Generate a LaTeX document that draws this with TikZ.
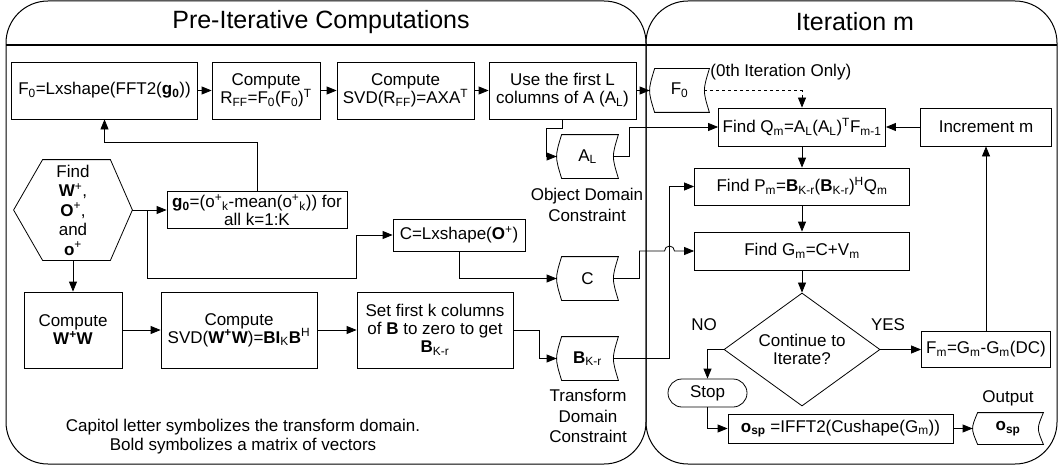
\documentclass[tikz,border=0pt]{standalone}
\usepackage{fontspec}
\setmainfont{Liberation Sans}
\usetikzlibrary{arrows.meta,shapes.geometric,positioning}
\newcommand{\sbs}[1]{\textsubscript{#1}}
\newcommand{\sps}[1]{\textsuperscript{#1}}
\newcommand{\storeline}[1]{\draw[-] ([xshift=5pt]#1.north west) .. controls ([xshift=-1.7pt]#1.west) .. ([xshift=5pt]#1.south west) -- (#1.south east) .. controls ([xshift=-6.7pt]#1.east) .. (#1.north east) -- cycle;}
\begin{document}
\begin{tikzpicture}[x=1pt,y=1pt,->,>={Triangle[length=10pt,width=8pt]},line width=0.8pt,
                    every node/.style={font=\fontsize{17}{18}\selectfont},
                    box/.style={draw,align=center,inner sep=0pt},
                    store/.style={inner sep=0pt,minimum width=61pt,minimum height=43pt},
                    lbl/.style={align=center,inner sep=0pt,font=\fontsize{17}{20.5}\selectfont}]
  \useasboundingbox (0,0) rectangle (1059,-468);

  \draw[-,rounded corners=42pt,line width=1pt] (6,-1) rectangle (646,-464);
  \draw[-,rounded corners=42pt,line width=1pt] (646,-1) rectangle (1057,-464);
  \draw[-,line width=1.5pt] (6,-45) -- (1057,-45);
  \node[font=\fontsize{25}{30}\selectfont] (pretitle) at (321,-22) {Pre-Iterative Computations};
  \node[font=\fontsize{25}{30}\selectfont] (ittitle) at (855,-22) {Iteration m};

  \node[box,minimum width=186pt,minimum height=57pt] (F0box) at (104.5,-90.5) {F\sbs{0}=Lxshape(FFT2(\textbf{g\sbs{0}}))};
  \node[box,minimum width=108pt,minimum height=57pt] (Rff)   at (266,-90.5)   {Compute\\R\sbs{FF}=F\sbs{0}(F\sbs{0})\sps{T}};
  \node[box,minimum width=137pt,minimum height=57pt] (Svd)   at (405.5,-90.5) {Compute\\SVD(R\sbs{FF})=AXA\sps{T}};
  \node[box,minimum width=147pt,minimum height=57pt] (Use)   at (562.5,-90.5) {Use the first L\\columns of A (A\sbs{L})};
  \node[store,minimum width=59pt] (F0st) at (679.5,-90.5) {F\sbs{0}};
  \node[lbl,anchor=west] (once) at (710,-72) {(0th Iteration Only)};
  \node[store] (ALst) at (587.5,-156.5) {A\sbs{L}};
  \node[lbl] (objlbl) at (587,-205) {Object Domain\\Constraint};

  \node[minimum width=118pt,minimum height=100pt,inner sep=0pt,align=center,
        font=\fontsize{17}{19.5}\selectfont] (Find) at (73,-210)
        {Find\\\textbf{W}\sps{+},\\\textbf{O}\sps{+},\\and\\\textbf{o}\sps{+}};
  \draw[-] (Find.west) -- ([xshift=29pt]Find.north west) -- ([xshift=-22pt]Find.north east) -- (Find.east)
           -- ([xshift=-22pt]Find.south east) -- ([xshift=29pt]Find.south west) -- cycle;
  \node[box,minimum width=180pt,minimum height=37pt] (g0) at (257,-210) {\textbf{g\sbs{0}}=(o\sps{+}\sbs{k}-mean(o\sps{+}\sbs{k})) for\\all k=1:K};
  \node[box,minimum width=132pt,minimum height=32pt] (Cbox) at (459,-235) {C=Lxshape(\textbf{O}\sps{+})};
  \node[store] (Cst) at (587.5,-278.5) {C};

  \node[box,minimum width=98pt,minimum height=76pt]  (WW)   at (73,-330)  {Compute\\\textbf{W\sps{+}W}};
  \node[box,minimum width=156pt,minimum height=76pt] (SvdW) at (239,-330) {Compute\\SVD(\textbf{W\sps{+}W})=\textbf{BI}\sbs{K}\textbf{B}\sps{H}};
  \node[box,minimum width=156pt,minimum height=76pt] (Setk) at (435,-330) {Set first k columns\\of \textbf{B} to zero to get\\\textbf{B}\sbs{K-r}};
  \node[store] (Bst) at (587.5,-358.5) {\textbf{B}\sbs{K-r}};
  \node[lbl] (trlbl) at (588,-416) {Transform\\Domain\\Constraint};
  \node[lbl,font=\fontsize{17}{19}\selectfont] (note) at (243,-437) {Capitol letter symbolizes the transform domain.\\Bold symbolizes a matrix of vectors};

  \node[box,minimum width=167pt,minimum height=38pt] (Qm)  at (802,-127)   {Find Q\sbs{m}=A\sbs{L}(A\sbs{L})\sps{T}F\sbs{m-1}};
  \node[box,minimum width=131pt,minimum height=38pt] (Inc) at (986,-127)   {Increment m};
  \node[box,minimum width=215pt,minimum height=37pt] (Pm)  at (802,-186.5) {Find P\sbs{m}=\textbf{B}\sbs{K-r}(\textbf{B}\sbs{K-r})\sps{H}Q\sbs{m}};
  \node[box,minimum width=215pt,minimum height=38pt] (Gm)  at (802,-251)   {Find G\sbs{m}=C+V\sbs{m}};
  \node[draw,diamond,aspect=1.4,minimum width=156pt,minimum height=113pt,inner sep=0pt,align=center] (Cont) at (802,-349.5) {Continue to\\Iterate?};
  \node[box,minimum width=129pt,minimum height=36pt] (Fm) at (986,-349.5) {F\sbs{m}=G\sbs{m}-G\sbs{m}(DC)};
  \node[lbl] (yes) at (888,-325) {YES};
  \node[lbl] (no)  at (704,-325) {NO};
  \node[box,rounded corners=14pt,minimum width=79pt,minimum height=28pt] (Stop) at (707.5,-393) {Stop};
  \node[box,minimum width=225pt,minimum height=29pt] (Osp) at (840.5,-428.5) {\textbf{o\sbs{sp}} =IFFT2(Cushape(G\sbs{m}))};
  \node[store,minimum width=70pt,minimum height=31pt] (Outst) at (1008,-428.5) {\textbf{o\sbs{sp}}};
  \node[lbl] (outlbl) at (1008,-398) {Output};

  \storeline{F0st}
  \storeline{ALst}
  \storeline{Cst}
  \storeline{Bst}
  \storeline{Outst}
  \coordinate (hop) at (669.5,-251);

  \draw (F0box) -- (Rff);
  \draw (Rff) -- (Svd);
  \draw (Svd) -- (Use);
  \draw (Use) -- (F0st);
  \draw[dashed] ([xshift=-5pt]F0st.east) -| (Qm.north);
  \draw (Use.south) -- ++(0,-9) -| ([xshift=-10pt]ALst.west) -- (ALst.west);
  \draw ([xshift=-5pt]ALst.east) -- ++(16,0) |- (Qm.west);
  \draw (Find.east) -- (g0.west);
  \draw ([xshift=15pt]Find.east) -- ++(0,-68) -| ([xshift=-36pt]Cbox.west) -- (Cbox.west);
  \draw (g0.north) -- ++(0,49) -| (F0box.south);
  \draw (Cbox.south) |- (Cst.west);
  \draw (Find.south) -- (WW.north);
  \draw (WW) -- (SvdW);
  \draw (SvdW) -- (Setk);
  \draw (Setk.east) -- ++(26,0) |- (Bst.west);
  \draw ([xshift=-5pt]Bst.east) -| (hop) |- (Pm.west);
  \draw ([xshift=-5pt]Cst.east) -- ++(26,0) |- ([xshift=-5pt]hop) arc[start angle=180,end angle=0,radius=5pt] -- (Gm.west);
  \draw (Inc) -- (Qm);
  \draw (Qm) -- (Pm);
  \draw (Pm) -- (Gm);
  \draw (Gm) -- (Cont);
  \draw (Cont) -- (Fm);
  \draw (Fm) -- (Inc);
  \draw (Cont.west) -| (Stop.north);
  \draw (Stop.south) |- (Osp.west);
  \draw (Osp) -- (Outst);
\end{tikzpicture}
\end{document}
